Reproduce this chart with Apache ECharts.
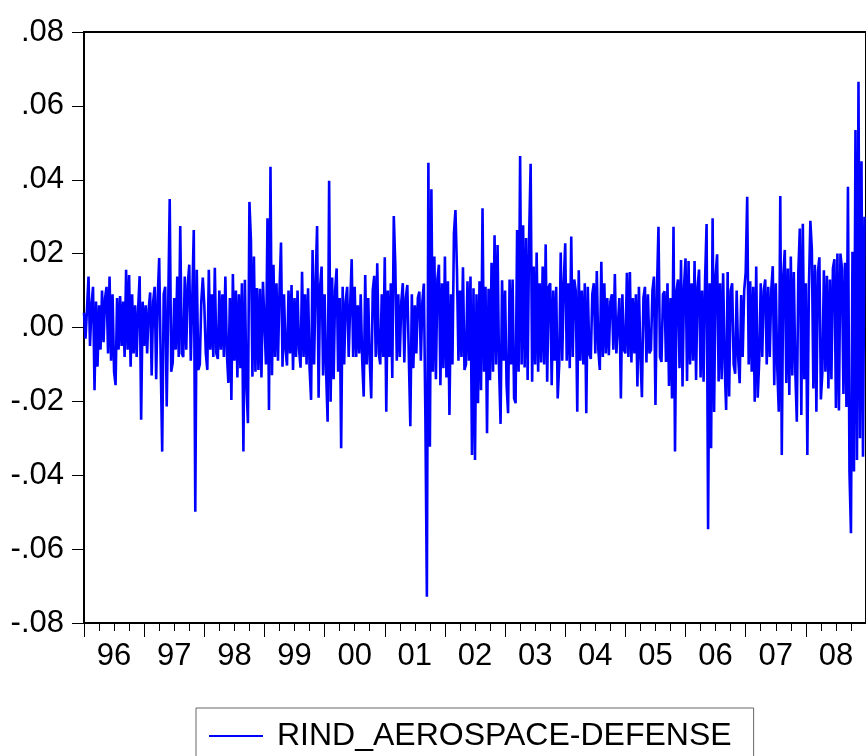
<!DOCTYPE html>
<html>
<head>
<meta charset="utf-8">
<script src="https://cdn.jsdelivr.net/npm/echarts@6/dist/echarts.min.js"></script>
<style>
html, body { margin: 0; padding: 0; background: #fff; }
#chart { width: 866px; height: 756px; }
</style>
</head>
<body>
<div id="chart"></div>
<script>
// daily returns (about 40 readings per year)
const START_YEAR = 1996;
const OBS_PER_YEAR = 40;
const seriesName = 'RIND_AEROSPACE-DEFENSE';
const yearLabels = ['96', '97', '98', '99', '00', '01', '02', '03', '04', '05', '06', '07', '08'];

const r1996 = [0.004, -0.003, 0.005, 0.0138, -0.005, 0.006, 0.011, -0.017, 0.007, -0.0106,
  0.006, -0.006, 0.010, -0.004, 0.008, 0.011, -0.007, 0.0138, -0.009, 0.009,
  -0.012, -0.0156, 0.008, -0.006, 0.0085, -0.005, 0.007, -0.008, 0.0156, -0.006,
  0.0142, -0.0106, 0.009, -0.007, 0.006, -0.008, 0.005, 0.0139, -0.025, 0.007];
const r1997 = [-0.005, 0.006, -0.007, 0.005, 0.0095, -0.013, 0.007, 0.011, -0.014, 0.008,
  0.0188, -0.009, -0.0336, 0.009, 0.011, -0.0214, 0.006, 0.0348, -0.012, -0.0095,
  0.008, -0.006, 0.0138, -0.008, 0.0275, -0.007, -0.008, 0.0138, -0.006, 0.0115,
  0.017, -0.009, 0.008, 0.0264, -0.0499, 0.0156, -0.0115, -0.010, 0.007, 0.0135];
const r1998 = [0.006, -0.007, -0.0115, 0.0156, -0.006, 0.009, -0.008, 0.0162, -0.007, -0.0085,
  0.010, -0.006, 0.009, -0.008, 0.0138, -0.007, -0.015, 0.008, -0.0196, 0.0145,
  -0.009, 0.010, -0.0135, 0.009, -0.011, 0.012, -0.0336, 0.0129, -0.0154, -0.0259,
  0.034, 0.0237, -0.0133, 0.0192, -0.012, 0.0107, -0.0115, 0.0105, -0.0135, 0.0124];
const r1999 = [0.0124, -0.010, 0.0296, -0.0223, 0.0435, -0.0129, 0.017, -0.008, 0.012, -0.009,
  0.010, 0.023, -0.0106, 0.009, -0.006, -0.0103, 0.010, -0.007, 0.0115, -0.0115,
  0.008, -0.008, 0.010, -0.006, -0.0109, 0.0151, -0.008, 0.009, -0.010, 0.0106,
  -0.011, -0.0196, 0.021, -0.010, 0.012, 0.0275, -0.019, 0.011, 0.0165, -0.013];
const r2000 = [0.009, -0.012, -0.0255, 0.0397, -0.0201, 0.0135, -0.014, 0.010, 0.016, -0.012,
  0.008, -0.0327, 0.011, -0.010, 0.007, 0.011, -0.008, 0.006, 0.0185, -0.008,
  0.011, -0.008, 0.006, -0.007, 0.009, -0.009, -0.0187, 0.0142, -0.010, 0.008,
  -0.009, -0.0192, 0.010, 0.014, -0.008, 0.0174, -0.007, -0.010, 0.009, -0.008];
const r2001 = [0.019, -0.0228, 0.010, -0.008, 0.012, -0.0137, 0.0302, 0.017, -0.009, 0.009,
  -0.008, 0.007, 0.012, -0.0095, 0.008, 0.0115, -0.008, -0.0267, 0.009, -0.011,
  0.006, -0.007, 0.008, 0.0097, -0.009, 0.007, 0.0119, -0.0241, -0.0729, 0.0446,
  -0.0323, 0.0374, -0.012, 0.0192, -0.014, 0.013, 0.017, -0.0156, 0.012, -0.011];
const r2002 = [0.0192, -0.0135, 0.0125, -0.0237, 0.009, -0.010, 0.0255, 0.0318, 0.0156, -0.009,
  0.010, -0.008, 0.0163, -0.0115, -0.010, 0.0125, -0.009, 0.0138, -0.0345, 0.0106,
  -0.0359, 0.009, -0.0205, 0.0125, -0.017, 0.0323, -0.012, 0.011, -0.0286, 0.0105,
  -0.0143, 0.0175, -0.012, 0.025, -0.010, 0.0223, -0.011, -0.0261, 0.0128, -0.009];
const r2003 = [0.010, -0.0155, -0.0232, 0.013, -0.010, 0.013, -0.0192, -0.0205, 0.0264, -0.012,
  0.0464, -0.010, 0.0277, -0.0108, 0.0242, -0.0142, 0.0248, 0.0443, -0.0147, 0.0165,
  -0.010, 0.0203, -0.012, 0.012, -0.0095, 0.0165, -0.010, 0.0225, -0.0147, 0.011,
  0.012, -0.0156, 0.010, -0.009, 0.011, -0.0192, -0.010, 0.0203, -0.009, 0.012];
const r2004 = [0.0228, -0.009, 0.012, -0.011, 0.0246, -0.008, 0.013, 0.010, -0.0228, 0.0155,
  -0.009, 0.010, -0.010, 0.012, -0.0232, 0.011, -0.007, -0.0085, 0.009, 0.012,
  -0.007, 0.0153, -0.006, -0.0115, 0.0178, -0.008, 0.012, -0.007, 0.008, -0.0075,
  0.007, 0.009, -0.006, 0.0145, -0.007, -0.007, 0.008, -0.0192, 0.009, -0.006];
const r2005 = [-0.007, 0.0148, -0.008, 0.015, -0.0095, 0.008, -0.007, 0.009, -0.016, 0.011,
  -0.008, -0.0189, 0.008, 0.011, -0.0095, 0.009, -0.007, -0.006, 0.010, 0.0138,
  -0.021, 0.010, 0.0273, -0.008, -0.0093, 0.009, 0.0098, -0.0093, 0.012, -0.0158,
  0.008, -0.0192, 0.0273, -0.0336, 0.010, 0.013, -0.011, 0.0183, -0.016, 0.011];
const r2006 = [0.0187, -0.0145, 0.018, -0.010, 0.012, -0.009, 0.018, -0.0142, 0.011, 0.0157,
  -0.0135, 0.010, -0.0147, 0.013, 0.028, -0.0546, 0.012, -0.0327, 0.0296, -0.0229,
  0.014, 0.0198, -0.0146, 0.012, -0.014, 0.0147, -0.010, -0.0223, 0.015, -0.0187,
  0.010, 0.012, -0.010, -0.0125, 0.010, -0.008, -0.0151, 0.0088, -0.008, 0.010];
const r2007 = [0.0149, 0.0354, -0.010, 0.0125, -0.012, 0.011, -0.0201, 0.0165, -0.019, -0.009,
  0.012, -0.008, 0.010, 0.013, -0.010, 0.011, -0.008, 0.010, 0.0166, -0.0156,
  0.012, -0.011, -0.0228, 0.0356, -0.0345, 0.014, 0.021, -0.015, 0.016, -0.0183,
  0.0192, -0.013, 0.015, -0.012, -0.0255, 0.015, 0.0268, -0.0237, 0.0281, -0.014];
const r2008 = [0.012, -0.0345, 0.010, 0.0289, 0.021, -0.0165, 0.017, -0.0228, 0.015, 0.019,
  -0.0195, -0.012, 0.0155, -0.012, 0.014, -0.0165, 0.013, -0.014, 0.016, 0.0185,
  -0.0218, 0.020, -0.0225, 0.020, 0.016, -0.018, 0.0175, -0.0215, 0.0381, -0.039,
  -0.0557, 0.0205, -0.039, 0.0535, -0.0359, 0.0665, -0.030, 0.045, -0.035, 0.030];

const returns = [].concat(r1996, r1997, r1998, r1999, r2000, r2001, r2002,
  r2003, r2004, r2005, r2006, r2007, r2008);
const points = returns.map(function (v, i) {
  return [START_YEAR + i / OBS_PER_YEAR, v];
});

const FONT = 'Liberation Sans, Arial, sans-serif';

const chart = echarts.init(document.getElementById('chart'));
chart.setOption({
  animation: false,
  backgroundColor: '#fff',
  grid: {
    left: 84,
    top: 32,
    bottom: 133,
    width: 787,
    show: true,
    borderColor: '#000',
    borderWidth: 2,
    containLabel: false
  },
  legend: {
    data: [seriesName],
    left: 196,
    top: 708,
    icon: 'rect',
    itemWidth: 54,
    itemHeight: 2,
    borderColor: '#666',
    borderWidth: 1,
    padding: [12, 22, 40, 13],
    textStyle: {
      fontSize: 32,
      color: '#000',
      fontFamily: FONT,
      padding: [0, 0, 0, 9]
    }
  },
  xAxis: [
    {
      type: 'value',
      min: 1996,
      max: 2009,
      interval: 1,
      axisLine: { show: true, onZero: false, lineStyle: { color: '#000', width: 2 } },
      axisTick: { show: true, length: 14, lineStyle: { color: '#000', width: 1 } },
      minorTick: { show: true, splitNumber: 4, length: 8, lineStyle: { color: '#000', width: 1 } },
      axisLabel: { show: false },
      splitLine: { show: false }
    },
    {
      type: 'category',
      data: yearLabels,
      boundaryGap: true,
      position: 'bottom',
      axisLine: { show: false, onZero: false },
      axisTick: { show: false },
      axisLabel: {
        interval: 0,
        margin: 18,
        fontSize: 31,
        color: '#000',
        fontFamily: FONT
      },
      splitLine: { show: false }
    }
  ],
  yAxis: {
    type: 'value',
    min: -0.08,
    max: 0.08,
    interval: 0.02,
    axisLine: { show: true, onZero: false, lineStyle: { color: '#000', width: 2 } },
    axisTick: { show: true, length: 12, lineStyle: { color: '#000', width: 1 } },
    axisLabel: {
      margin: 20,
      fontSize: 31,
      color: '#000',
      fontFamily: FONT,
      formatter: function (v) {
        return v.toFixed(2).replace('0.', '.');
      }
    },
    splitLine: { show: false }
  },
  series: [
    {
      name: seriesName,
      type: 'line',
      xAxisIndex: 0,
      symbol: 'none',
      color: '#0000ff',
      lineStyle: { color: '#0000ff', width: 2.6 },
      data: points
    }
  ]
});
</script>
</body>
</html>
